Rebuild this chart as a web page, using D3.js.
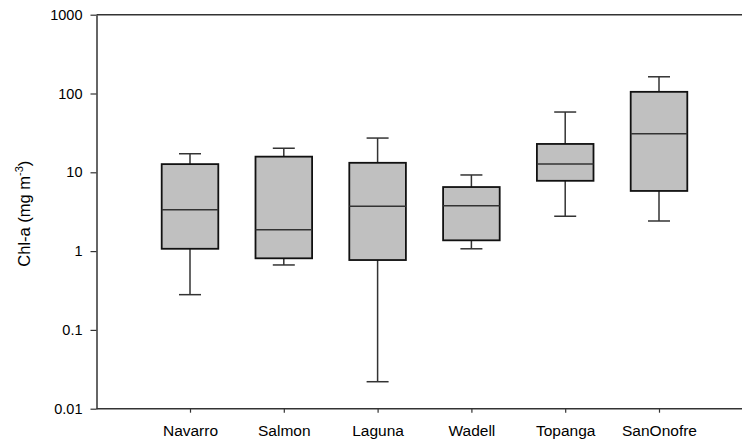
<!DOCTYPE html>
<html>
<head>
<meta charset="utf-8">
<script src="https://cdn.jsdelivr.net/npm/d3@7"></script>
<style>
  html, body { margin: 0; padding: 0; background: #fff; }
  svg { display: block; font-family: Arial, "Liberation Sans", sans-serif; }
</style>
</head>
<body>
<svg id="chart" width="742" height="444"></svg>
<script>
// Chlorophyll-a box plots by site (log scale)
const sites = ["Navarro", "Salmon", "Laguna", "Wadell", "Topanga", "SanOnofre"];
const whiskerLow  = [0.28, 0.667, 0.022, 1.07, 2.77, 2.41];
const quartile1   = [1.07, 0.81, 0.77, 1.37, 7.8, 5.8];
const medians     = [3.35, 1.87, 3.7, 3.77, 12.7, 30.9];
const quartile3   = [12.7, 15.8, 13.2, 6.5, 22.9, 105];
const whiskerHigh = [17.2, 20.2, 27.2, 9.25, 58.2, 163];
const yTicks = [0.01, 0.1, 1, 10, 100, 1000];
const yTickLabels = ["0.01", "0.1", "1", "10", "100", "1000"];

const svg = d3.select("#chart");
const plotLeft = 96.5, plotRight = 742, plotTop = 14.7, plotBottom = 408.7;

const y = d3.scaleLog().domain([0.01, 1000]).range([plotBottom, plotTop]);
const x = d3.scalePoint().domain(sites).range([190, 659]);

const boxW = 56.6, capW = 22;
const axisColor = "#333";

const rows = sites.map((s, i) => ({
  site: s, lo: whiskerLow[i], q1: quartile1[i], med: medians[i], q3: quartile3[i], hi: whiskerHigh[i]
}));

// Left axis
const yAxis = d3.axisLeft(y).tickValues(yTicks)
  .tickFormat((d, i) => yTickLabels[i]).tickSize(6).tickPadding(8).tickSizeOuter(0);
const gy = svg.append("g").attr("transform", `translate(${plotLeft},0)`).call(yAxis);
gy.select(".domain").attr("stroke", axisColor).attr("stroke-width", 1.5);
gy.selectAll(".tick line").attr("stroke", axisColor).attr("stroke-width", 1.2);
gy.selectAll(".tick text").attr("fill", "#000").style("font-size", "14.5px")
  .style("font-family", "Arial, 'Liberation Sans', sans-serif");

// Bottom axis
const xAxis = d3.axisBottom(x).tickSize(4).tickPadding(12).tickSizeOuter(0);
const gx = svg.append("g").attr("transform", `translate(0,${plotBottom})`).call(xAxis);
gx.select(".domain").remove();
gx.append("line").attr("x1", plotLeft).attr("x2", plotRight).attr("y1", 0).attr("y2", 0)
  .attr("stroke", axisColor).attr("stroke-width", 1.5);
gx.selectAll(".tick line").attr("stroke", axisColor).attr("stroke-width", 1.2);
gx.selectAll(".tick text").attr("fill", "#000").style("font-size", "15.5px")
  .style("font-family", "Arial, 'Liberation Sans', sans-serif");

// Top frame line
svg.append("line").attr("x1", plotLeft).attr("x2", plotRight)
  .attr("y1", plotTop).attr("y2", plotTop)
  .attr("stroke", axisColor).attr("stroke-width", 1.5);

// Y axis title
const title = svg.append("text")
  .attr("transform", `translate(30,${(plotTop + plotBottom) / 2 + 2}) rotate(-90)`)
  .attr("text-anchor", "middle")
  .style("font-size", "16.5px").attr("fill", "#000");
title.append("tspan").text("Chl-a (mg m");
title.append("tspan").attr("dy", -7).style("font-size", "11px").text("-3");
title.append("tspan").attr("dy", 7).text(")");

// Boxes
const g = svg.append("g");
const box = g.selectAll("g.box").data(rows).join("g").attr("class", "box");

box.append("line")
  .attr("x1", d => x(d.site)).attr("x2", d => x(d.site))
  .attr("y1", d => y(d.hi)).attr("y2", d => y(d.q3))
  .attr("stroke", axisColor).attr("stroke-width", 1.5);
box.append("line")
  .attr("x1", d => x(d.site)).attr("x2", d => x(d.site))
  .attr("y1", d => y(d.q1)).attr("y2", d => y(d.lo))
  .attr("stroke", axisColor).attr("stroke-width", 1.5);
box.append("line")
  .attr("x1", d => x(d.site) - capW / 2).attr("x2", d => x(d.site) + capW / 2)
  .attr("y1", d => y(d.hi)).attr("y2", d => y(d.hi))
  .attr("stroke", axisColor).attr("stroke-width", 1.5);
box.append("line")
  .attr("x1", d => x(d.site) - capW / 2).attr("x2", d => x(d.site) + capW / 2)
  .attr("y1", d => y(d.lo)).attr("y2", d => y(d.lo))
  .attr("stroke", axisColor).attr("stroke-width", 1.5);
box.append("rect")
  .attr("x", d => x(d.site) - boxW / 2).attr("width", boxW)
  .attr("y", d => y(d.q3)).attr("height", d => y(d.q1) - y(d.q3))
  .attr("fill", "#c0c0c0").attr("stroke", "#111").attr("stroke-width", 1.8);
box.append("line")
  .attr("x1", d => x(d.site) - boxW / 2).attr("x2", d => x(d.site) + boxW / 2)
  .attr("y1", d => y(d.med)).attr("y2", d => y(d.med))
  .attr("stroke", axisColor).attr("stroke-width", 1.5);
</script>
</body>
</html>
